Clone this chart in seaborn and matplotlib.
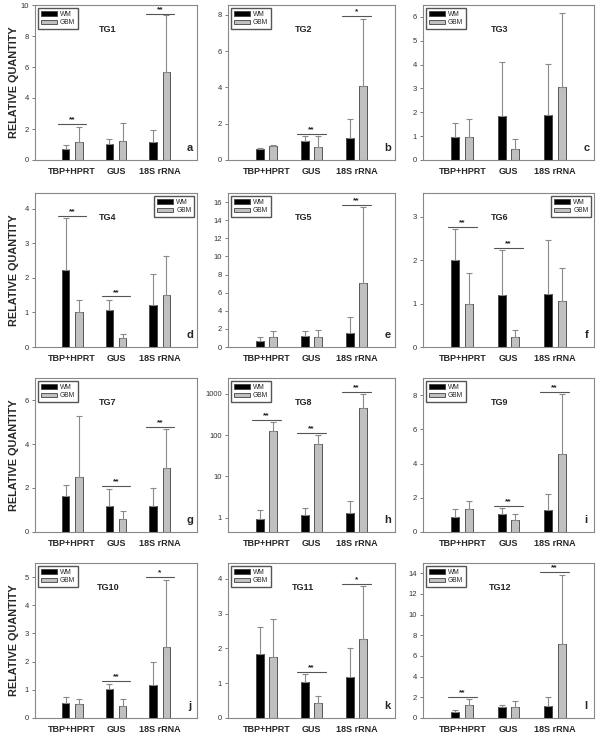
import numpy as np
import pandas as pd
import matplotlib
matplotlib.use("Agg")
import matplotlib.pyplot as plt
import seaborn as sns

# ---- data ----
genes = ["TBP+HPRT", "GUS", "18S rRNA"]
groups = ["WM", "GBM"]
panel_titles = ["TG1", "TG2", "TG3", "TG4", "TG5", "TG6",
                "TG7", "TG8", "TG9", "TG10", "TG11", "TG12"]
panel_letters = list("abcdefghijkl")

wm_mean = [[0.71, 1.04, 1.19], [0.62, 1.03, 1.23], [0.95, 1.85, 1.90],
           [2.22, 1.06, 1.22], [0.66, 1.17, 1.60], [2.01, 1.21, 1.23],
           [1.63, 1.16, 1.19], [0.91, 1.16, 1.32], [0.89, 1.06, 1.26],
           [0.53, 1.02, 1.18], [1.84, 1.03, 1.19], [0.55, 1.03, 1.19]]
wm_sd = [[0.24, 0.32, 0.73], [0.03, 0.29, 1.01], [0.59, 2.26, 2.14],
         [1.51, 0.31, 0.88], [0.40, 0.65, 1.76], [0.70, 1.03, 1.24],
         [0.51, 0.80, 0.82], [0.66, 0.60, 1.23], [0.45, 0.36, 0.95],
         [0.22, 0.20, 0.79], [0.76, 0.22, 0.83], [0.22, 0.26, 0.87]]
gbm_mean = [[1.17, 1.23, 5.68], [0.79, 0.70, 4.08], [0.95, 0.48, 3.06],
            [1.02, 0.26, 1.50], [1.09, 1.09, 7.12], [0.98, 0.22, 1.05],
            [2.52, 0.57, 2.92], [124, 61, 455], [1.34, 0.73, 4.57],
            [0.49, 0.41, 2.52], [1.74, 0.42, 2.26], [1.29, 1.10, 7.16]]
gbm_sd = [[0.99, 1.15, 3.65], [0.04, 0.62, 3.70], [0.75, 0.39, 3.09],
          [0.35, 0.12, 1.13], [0.66, 0.84, 8.38], [0.73, 0.17, 0.77],
          [2.77, 0.38, 1.78], [86, 39, 545], [0.47, 0.35, 3.51],
          [0.20, 0.27, 2.39], [1.11, 0.22, 1.53], [0.55, 0.51, 6.71]]

# significance marks: (panel, gene index, label, line height)
sig_marks = [(0, 0, "**", 2.3), (0, 2, "**", 9.45),
             (1, 1, "**", 1.42), (1, 2, "*", 7.94),
             (3, 0, "**", 3.79), (3, 1, "**", 1.46),
             (4, 2, "**", 15.7),
             (5, 0, "**", 2.76), (5, 1, "**", 2.28),
             (6, 1, "**", 2.08), (6, 2, "**", 4.79),
             (7, 0, "**", 235), (7, 1, "**", 115), (7, 2, "**", 1120),
             (8, 1, "**", 1.54), (8, 2, "**", 8.18),
             (9, 1, "**", 1.30), (9, 2, "*", 4.99),
             (10, 1, "**", 1.31), (10, 2, "*", 3.86),
             (11, 0, "**", 2.0), (11, 2, "**", 14.1)]

y_max = [10, 8.55, 6.5, 4.45, 17, 3.55, 7, 2400, 9, 5.5, 4.45, 15]
y_step = [2, 2, 1, 1, 2, 1, 2, None, 2, 1, 1, 2]
legend_loc = ["upper left", "upper left", "upper left", "upper right",
              "upper left", "upper right", "upper left", "upper left",
              "upper left", "upper left", "upper left", "upper left"]

# ---- layout (pixels) ----
col_l = [35, 228, 423]
col_r = [197, 395, 594]
row_t = [5, 193, 378, 563]
row_b = [160, 347, 532, 718]
W, H = 600, 737

sns.set_theme(style="white")
plt.rcParams["font.family"] = ["Liberation Sans", "DejaVu Sans"]

fig = plt.figure(figsize=(6, 7.37), dpi=100)
colors = {"WM": "black", "GBM": "#c0c0c0"}

for p in range(12):
    r, c = divmod(p, 3)
    ax = fig.add_axes([col_l[c] / W, 1 - row_b[r] / H,
                       (col_r[c] - col_l[c]) / W, (row_b[r] - row_t[r]) / H])
    df = pd.DataFrame({
        "gene": genes * 2,
        "group": ["WM"] * 3 + ["GBM"] * 3,
        "value": wm_mean[p] + gbm_mean[p],
    })
    sns.barplot(data=df, x="gene", y="value", hue="group", order=genes,
                hue_order=groups, palette=colors, width=0.6, gap=0.42,
                errorbar=None, edgecolor="#404040", linewidth=0.6, ax=ax)
    bars_wm, bars_gbm = ax.containers[0], ax.containers[1]

    # upward error bars only
    for bars, sds in ((bars_wm, wm_sd[p]), (bars_gbm, gbm_sd[p])):
        for bar, sd in zip(bars, sds):
            x = bar.get_x() + bar.get_width() / 2
            ax.errorbar(x, bar.get_height(), yerr=[[0], [sd]], fmt="none",
                        ecolor="#8a8a8a", elinewidth=0.8, capsize=2.2,
                        capthick=0.8, zorder=1)

    if p == 7:
        ax.set_yscale("log")
        ax.set_ylim(0.45, y_max[p])
        ax.set_yticks([1, 10, 100, 1000])
        ax.set_yticklabels(["1", "10", "100", "1000"])
        ax.minorticks_off()
    else:
        ax.set_ylim(0, y_max[p])
        ticks = np.arange(0, y_max[p] + 1e-9, y_step[p])
        ax.set_yticks(ticks)
        ax.set_yticklabels([f"{v:g}" for v in ticks])
    ax.set_xlim(-0.85, 2.85)

    # significance lines
    for (pp, gi, lab, h) in sig_marks:
        if pp != p:
            continue
        b0, b1 = bars_wm[gi], bars_gbm[gi]
        x0 = b0.get_x() - 0.08
        x1 = b1.get_x() + b1.get_width() + 0.08
        ax.plot([x0, x1], [h, h], color="#555555", lw=0.8)
        ax.annotate(lab, ((x0 + x1) / 2, h), xytext=(0, 0.5),
                    textcoords="offset points", ha="center", va="bottom",
                    fontsize=6, fontweight="bold", color="#222222")

    leg = ax.get_legend()
    handles = leg.legend_handles
    leg.remove()
    ax.legend(handles, groups, loc=legend_loc[p], fontsize=4.8, frameon=True,
              fancybox=False, edgecolor="#555555", framealpha=1,
              handlelength=2.4, handleheight=0.7, borderpad=0.45,
              labelspacing=0.25, handletextpad=0.5, borderaxespad=0.4)

    ax.text(0.45, 0.84, panel_titles[p], transform=ax.transAxes,
            ha="center", va="center", fontsize=6.5, fontweight="bold")
    ax.text(0.955, 0.08, panel_letters[p], transform=ax.transAxes,
            ha="center", va="center", fontsize=8, fontweight="bold")

    ax.set_xlabel("")
    if c == 0:
        ax.set_ylabel("RELATIVE QUANTITY", fontsize=7.8, fontweight="bold")
        ax.yaxis.set_label_coords(-0.1, 0.5)
    else:
        ax.set_ylabel("")
    ax.tick_params(axis="x", length=0, labelsize=6.5, pad=5)
    for t in ax.get_xticklabels():
        t.set_fontweight("bold")
    ax.tick_params(axis="y", direction="out", length=2.5, width=0.6,
                   labelsize=5.5, labelcolor="#333333", color="#666666",
                   pad=2, left=True)
    for s in ax.spines.values():
        s.set_color("#888888")
        s.set_linewidth(0.8)

fig.savefig("out.png", dpi=100)
